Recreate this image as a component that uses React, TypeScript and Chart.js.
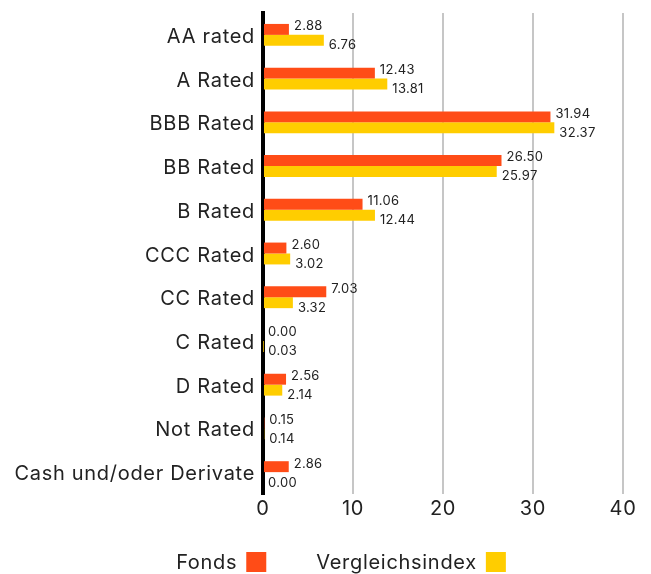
import React, { useEffect, useRef } from "react";
import { Chart, registerables } from "chart.js";

Chart.register(...registerables);

const categories = [
  "AA rated",
  "A Rated",
  "BBB Rated",
  "BB Rated",
  "B Rated",
  "CCC Rated",
  "CC Rated",
  "C Rated",
  "D Rated",
  "Not Rated",
  "Cash und/oder Derivate",
];
const fondsValues = [2.88, 12.43, 31.94, 26.5, 11.06, 2.6, 7.03, 0.0, 2.56, 0.15, 2.86];
const indexValues = [6.76, 13.81, 32.37, 25.97, 12.44, 3.02, 3.32, 0.03, 2.14, 0.14, 0.0];
const xTicks = [0, 10, 20, 30, 40];
const seriesNames = ["Fonds", "Vergleichsindex"];
const seriesColors = ["#ff4c17", "#ffcd00"];

const FONT = "Inter, 'Noto Sans', sans-serif";
const SPACING = "0.7px";

const spacingPlugin = {
  id: "spacing",
  beforeDraw(chart: any) {
    chart.ctx.letterSpacing = SPACING;
  },
};

const labelPlugin = {
  id: "barLabels",
  afterDatasetsDraw(chart: any) {
    const ctx = chart.ctx;
    ctx.save();
    ctx.letterSpacing = "0.3px";
    ctx.font = `13px ${FONT}`;
    ctx.fillStyle = "#222";
    ctx.textAlign = "left";
    ctx.textBaseline = "middle";
    chart.data.datasets.forEach((ds: any, di: number) => {
      const meta = chart.getDatasetMeta(di);
      meta.data.forEach((bar: any, i: number) => {
        const v = ds.data[i] as number;
        const dy = di === 0 ? -3 : 5;
        ctx.fillText(v.toFixed(2), bar.x + 5, bar.y + dy);
      });
    });
    ctx.restore();
  },
};

const legendPlugin = {
  id: "customLegend",
  afterDraw(chart: any) {
    const ctx = chart.ctx;
    ctx.save();
    ctx.letterSpacing = SPACING;
    ctx.font = `20px ${FONT}`;
    ctx.textBaseline = "middle";
    ctx.textAlign = "left";
    const box = 20;
    const gapTextBox = 9;
    const gapItems = 50;
    const widths = seriesNames.map((n) => ctx.measureText(n).width + gapTextBox + box);
    const total = widths.reduce((a, b) => a + b, 0) + gapItems * (seriesNames.length - 1);
    let x = 333 - total / 2;
    const cy = 555;
    seriesNames.forEach((n, i) => {
      ctx.fillStyle = "#222";
      ctx.fillText(n, x, cy);
      const tw = ctx.measureText(n).width;
      ctx.fillStyle = seriesColors[i];
      ctx.fillRect(x + tw + gapTextBox, cy - box / 2 - 1, box, box);
      x += widths[i] + gapItems;
    });
    ctx.restore();
  },
};

export default function App() {
  const ref = useRef<HTMLCanvasElement>(null);
  useEffect(() => {
    if (!ref.current) return;
    const chart = new Chart(ref.current, {
      type: "bar",
      data: {
        labels: categories,
        datasets: [
          { label: seriesNames[0], data: fondsValues, backgroundColor: seriesColors[0] },
          { label: seriesNames[1], data: indexValues, backgroundColor: seriesColors[1] },
        ],
      },
      options: {
        indexAxis: "y",
        animation: false,
        responsive: false,
        maintainAspectRatio: false,
        categoryPercentage: 0.5,
        barPercentage: 1,
        layout: { padding: { top: 5, right: 20, bottom: 50, left: 0 } },
        plugins: { legend: { display: false }, tooltip: { enabled: false } },
        scales: {
          x: {
            min: 0,
            max: 40,
            afterBuildTicks: (s: any) => {
              s.ticks = xTicks.map((v) => ({ value: v }));
            },
            afterFit: (s: any) => {
              s.height = 30;
              s.paddingLeft = 0;
              s.paddingRight = 0;
            },
            grid: {
              color: (c: any) => (c.tick && c.tick.value === 0 ? "rgba(0,0,0,0)" : "#c6c6c6"),
              lineWidth: 2,
              drawTicks: false,
            },
            border: { display: false },
            ticks: { color: "#222", font: { family: FONT, size: 20 }, padding: 3 },
          },
          y: {
            afterFit: (s: any) => {
              s.width = 255;
              s.paddingTop = 0;
              s.paddingBottom = 0;
            },
            grid: { display: false, drawTicks: false },
            border: { display: true, color: "#000", width: 4 },
            ticks: { color: "#222", font: { family: FONT, size: 20 }, padding: 8, labelOffset: 2 },
          },
        },
      },
      plugins: [spacingPlugin, labelPlugin, legendPlugin],
    });
    return () => chart.destroy();
  }, []);
  return <canvas ref={ref} width={635} height={566} style={{ display: "block" }} />;
}
